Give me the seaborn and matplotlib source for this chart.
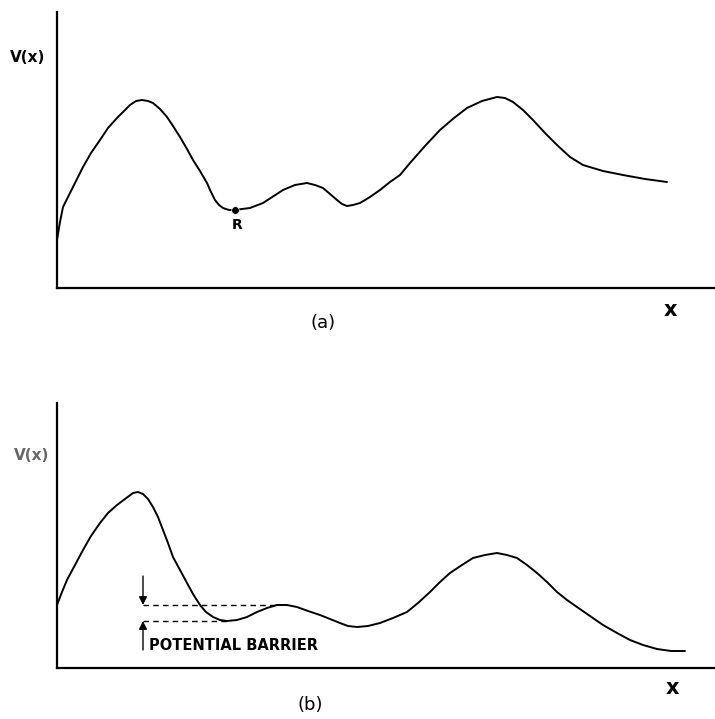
import matplotlib
matplotlib.use('Agg')
import matplotlib.pyplot as plt
import seaborn as sns
import pandas as pd

# curve (a): V(x), distance from the axes origin
xa = [0, 3, 6, 11, 16, 21, 26, 34, 43, 51, 60, 68, 73, 79, 85, 91, 96, 103,
      110, 116, 123, 130, 136, 143, 150, 154, 158, 162, 166, 172, 178, 185, 193,
      206, 226, 238, 250, 258, 266, 273, 280, 285, 290, 296, 303, 313, 323, 333,
      343, 353, 368, 383, 397, 410, 425, 440, 448, 456, 466, 476, 488, 500, 513,
      526, 546, 566, 588, 610]
ya = [48, 66, 81, 91, 101, 111, 121, 135, 148, 160, 170, 178, 183, 187, 188, 187, 185, 179,
      171, 162, 151, 139, 128, 117, 105, 96, 88, 83, 80, 78, 78, 79, 80,
      85, 98, 103, 105, 103, 100, 94, 88, 84, 82, 83, 85, 91, 98, 106,
      113, 125, 142, 158, 170, 180, 187, 191, 190, 186, 178, 168, 155, 143, 131,
      123, 117, 113, 109, 106]

# point R (local minimum)
r_x = [178]
r_y = [78]

# curve (b)
xb = [0, 5, 10, 18, 26, 34, 43, 51, 60, 68, 76, 81, 86, 91, 96, 101, 106, 111,
      116, 123, 130, 136, 143, 149, 156, 163, 170, 180, 190, 200, 210, 220, 230,
      240, 251, 263, 273, 283, 291, 300, 311, 323, 336, 350, 361, 373, 383, 393,
      405, 416, 428, 440, 450, 460, 470, 480, 490, 500, 510, 520, 533, 546, 560,
      573, 586, 600, 614, 628]
yb = [63, 76, 88, 103, 118, 132, 145, 155, 163, 169, 175, 176, 174, 169, 161, 151, 138, 125,
      111, 98, 85, 74, 63, 56, 51, 48, 47, 48, 51, 56, 60, 63, 63,
      61, 57, 53, 49, 45, 42, 41, 42, 45, 50, 56, 65, 76, 86, 95,
      103, 110, 113, 115, 113, 110, 103, 95, 86, 76, 68, 61, 52, 43, 35,
      28, 23, 19, 17, 17]

# potential barrier: top and bottom levels
barrier_top = 63
barrier_bottom = 47
barrier_x0 = 86
barrier_x_top_end = 222
barrier_x_bottom_end = 170

sns.set_theme(style='white')
plt.rcParams['font.family'] = ['DejaVu Sans']
plt.rcParams['text.color'] = 'black'

fig = plt.figure(figsize=(7.15, 7.19), dpi=100)
ax1 = fig.add_axes([57 / 715, 1 - 288 / 719, 658 / 715, 276 / 719])
ax2 = fig.add_axes([57 / 715, 1 - 668 / 719, 658 / 715, 265 / 719])

df_a = pd.DataFrame({'x': xa, 'V': ya})
df_b = pd.DataFrame({'x': xb, 'V': yb})

sns.lineplot(data=df_a, x='x', y='V', sort=False, color='black', lw=1.4, ax=ax1)
sns.scatterplot(x=r_x, y=r_y, color='black', s=30, ax=ax1, zorder=3)
ax1.text(r_x[0] + 2, r_y[0] - 15, 'R', ha='center', va='center',
         fontsize=10, fontweight='bold')

sns.lineplot(data=df_b, x='x', y='V', sort=False, color='black', lw=1.4, ax=ax2)

# dashed levels of the barrier
ax2.plot([barrier_x0, barrier_x_top_end], [barrier_top, barrier_top],
         color='black', ls=(0, (4, 3)), lw=1.0)
ax2.plot([barrier_x0, barrier_x_bottom_end], [barrier_bottom, barrier_bottom],
         color='black', ls=(0, (4, 3)), lw=1.0)
ax2.annotate('', xy=(barrier_x0, barrier_top), xytext=(barrier_x0, barrier_top + 29),
             arrowprops=dict(arrowstyle='-|>', color='black', lw=1.0,
                             mutation_scale=12, shrinkA=0, shrinkB=0))
ax2.annotate('', xy=(barrier_x0, barrier_bottom), xytext=(barrier_x0, barrier_bottom - 29),
             arrowprops=dict(arrowstyle='-|>', color='black', lw=1.0,
                             mutation_scale=12, shrinkA=0, shrinkB=0))
ax2.text(barrier_x0 + 6, barrier_bottom - 24, 'POTENTIAL BARRIER', ha='left',
         va='center', fontsize=10.5, fontweight='bold')

for ax, ymax in [(ax1, 276), (ax2, 265)]:
    ax.set_xlim(0, 658)
    ax.set_ylim(0, ymax)
    ax.set_xticks([])
    ax.set_yticks([])
    ax.set_xlabel('')
    ax.set_ylabel('')
    ax.patch.set_alpha(0)
    for s in ['top', 'right']:
        ax.spines[s].set_visible(False)
    for s in ['left', 'bottom']:
        ax.spines[s].set_color('black')
        ax.spines[s].set_linewidth(1.6)

# labels placed as in the scan
fig.text(10 / 715, 1 - 58 / 719, 'V(x)', ha='left', va='center',
         fontsize=11, fontweight='bold')
fig.text(14 / 715, 1 - 455 / 719, 'V(x)', ha='left', va='center',
         fontsize=11, fontweight='bold', alpha=0.6)
fig.text(323 / 715, 1 - 323 / 719, '(a)', ha='center', va='center', fontsize=13)
fig.text(670 / 715, 1 - 310 / 719, 'x', ha='center', va='center',
         fontsize=15, fontweight='bold')
fig.text(310 / 715, 1 - 705 / 719, '(b)', ha='center', va='center', fontsize=13)
fig.text(672 / 715, 1 - 688 / 719, 'x', ha='center', va='center',
         fontsize=15, fontweight='bold')

fig.savefig('out.png', dpi=100)
